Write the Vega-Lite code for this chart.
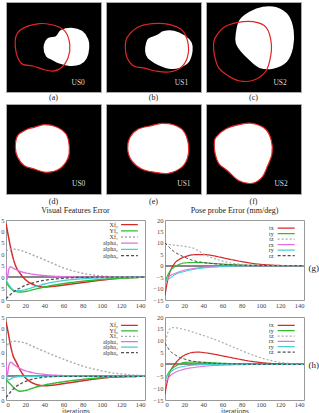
{
"$schema": "https://vega.github.io/schema/vega-lite/v6.json",
"padding": {"left": 0, "top": 1, "right": 0, "bottom": 0},
"config": {
  "font": "Liberation Serif",
  "view": {"stroke": "#999"},
  "axis": {"labelFont": "Liberation Serif", "labelFontSize": 6.5, "labelColor": "#444", "domain": false, "grid": false, "ticks": false, "labelPadding": 2, "titleFont": "Liberation Serif", "titleFontWeight": "normal", "titleColor": "#333", "titleFontSize": 7.5},
  "title": {"font": "Liberation Serif", "fontWeight": "normal", "color": "#222"}
},
"datasets": {
  "shapes": [
    {"p":"a","k":"c","i":0,"x":10.6,"y":37.8},{"p":"a","k":"c","i":1,"x":17.7,"y":29.3},{"p":"a","k":"c","i":2,"x":35.3,"y":24.1},{"p":"a","k":"c","i":3,"x":49.5,"y":25.6},{"p":"a","k":"c","i":4,"x":61.8,"y":32.2},{"p":"a","k":"c","i":5,"x":67.1,"y":47},{"p":"a","k":"c","i":6,"x":65.4,"y":61.9},{"p":"a","k":"c","i":7,"x":58.3,"y":73},{"p":"a","k":"c","i":8,"x":49.5,"y":76.7},{"p":"a","k":"c","i":9,"x":38.9,"y":74.8},{"p":"a","k":"c","i":10,"x":28.3,"y":71.1},{"p":"a","k":"c","i":11,"x":17.7,"y":69.3},{"p":"a","k":"c","i":12,"x":12.4,"y":61.9},{"p":"a","k":"c","i":13,"x":9.9,"y":50.7},
    {"p":"a","k":"b","i":0,"x":40.6,"y":50.7},{"p":"a","k":"b","i":1,"x":44.2,"y":41.5},{"p":"a","k":"b","i":2,"x":53,"y":38.9},{"p":"a","k":"b","i":3,"x":58.3,"y":32.2},{"p":"a","k":"b","i":4,"x":68.9,"y":29.6},{"p":"a","k":"b","i":5,"x":79.5,"y":33},{"p":"a","k":"b","i":6,"x":85.5,"y":41.5},{"p":"a","k":"b","i":7,"x":86.6,"y":50.7},{"p":"a","k":"b","i":8,"x":84.1,"y":61.9},{"p":"a","k":"b","i":9,"x":77.7,"y":68.5},{"p":"a","k":"b","i":10,"x":67.1,"y":70},{"p":"a","k":"b","i":11,"x":56.5,"y":67.4},{"p":"a","k":"b","i":12,"x":49.5,"y":63.7},{"p":"a","k":"b","i":13,"x":43.1,"y":60},
    {"p":"b","k":"c","i":0,"x":22.2,"y":39.6},{"p":"b","k":"c","i":1,"x":32.7,"y":28.5},{"p":"b","k":"c","i":2,"x":48.6,"y":24.1},{"p":"b","k":"c","i":3,"x":66.2,"y":24.8},{"p":"b","k":"c","i":4,"x":80.3,"y":31.5},{"p":"b","k":"c","i":5,"x":86.6,"y":47},{"p":"b","k":"c","i":6,"x":85.6,"y":61.9},{"p":"b","k":"c","i":7,"x":78.5,"y":73},{"p":"b","k":"c","i":8,"x":66.2,"y":77.8},{"p":"b","k":"c","i":9,"x":52.1,"y":76.7},{"p":"b","k":"c","i":10,"x":41.5,"y":73.7},{"p":"b","k":"c","i":11,"x":29.2,"y":71.1},{"p":"b","k":"c","i":12,"x":22.2,"y":61.9},{"p":"b","k":"c","i":13,"x":20.4,"y":50.7},
    {"p":"b","k":"b","i":0,"x":42.3,"y":50.7},{"p":"b","k":"b","i":1,"x":45.1,"y":41.5},{"p":"b","k":"b","i":2,"x":53.9,"y":37.8},{"p":"b","k":"b","i":3,"x":60.9,"y":33.3},{"p":"b","k":"b","i":4,"x":71.5,"y":33},{"p":"b","k":"b","i":5,"x":82,"y":37.8},{"p":"b","k":"b","i":6,"x":89.1,"y":45.2},{"p":"b","k":"b","i":7,"x":90.1,"y":54.4},{"p":"b","k":"b","i":8,"x":86.6,"y":65.6},{"p":"b","k":"b","i":9,"x":76.8,"y":72.2},{"p":"b","k":"b","i":10,"x":66.2,"y":73},{"p":"b","k":"b","i":11,"x":55.6,"y":69.3},{"p":"b","k":"b","i":12,"x":46.8,"y":63.7},{"p":"b","k":"b","i":13,"x":42.9,"y":58.1},
    {"p":"c","k":"c","i":0,"x":9.7,"y":39.6},{"p":"c","k":"c","i":1,"x":18.4,"y":28.5},{"p":"c","k":"c","i":2,"x":32.3,"y":23},{"p":"c","k":"c","i":3,"x":49.7,"y":21.9},{"p":"c","k":"c","i":4,"x":63.5,"y":28.5},{"p":"c","k":"c","i":5,"x":68.8,"y":47},{"p":"c","k":"c","i":6,"x":67,"y":65.6},{"p":"c","k":"c","i":7,"x":61.8,"y":78.5},{"p":"c","k":"c","i":8,"x":49.7,"y":87},{"p":"c","k":"c","i":9,"x":35.8,"y":87.8},{"p":"c","k":"c","i":10,"x":23.6,"y":82.2},{"p":"c","k":"c","i":11,"x":13.2,"y":73},{"p":"c","k":"c","i":12,"x":8.7,"y":58.1},{"p":"c","k":"c","i":13,"x":8,"y":47},
    {"p":"c","k":"b","i":0,"x":32.3,"y":35.9},{"p":"c","k":"b","i":1,"x":35.8,"y":21.1},{"p":"c","k":"b","i":2,"x":46.2,"y":11.9},{"p":"c","k":"b","i":3,"x":60.1,"y":6.3},{"p":"c","k":"b","i":4,"x":74,"y":7},{"p":"c","k":"b","i":5,"x":86.1,"y":15.6},{"p":"c","k":"b","i":6,"x":91.3,"y":32.2},{"p":"c","k":"b","i":7,"x":90.6,"y":50.7},{"p":"c","k":"b","i":8,"x":84.4,"y":65.6},{"p":"c","k":"b","i":9,"x":70.5,"y":73},{"p":"c","k":"b","i":10,"x":56.6,"y":72.2},{"p":"c","k":"b","i":11,"x":46.2,"y":63.7},{"p":"c","k":"b","i":12,"x":37.5,"y":54.4},{"p":"c","k":"b","i":13,"x":32.3,"y":45.2},
    {"p":"d","k":"b","i":0,"x":9.8,"y":48.1},{"p":"d","k":"b","i":1,"x":12.3,"y":35.2},{"p":"d","k":"b","i":2,"x":22.8,"y":27.8},{"p":"d","k":"b","i":3,"x":29.8,"y":25.9},{"p":"d","k":"b","i":4,"x":40.4,"y":23},{"p":"d","k":"b","i":5,"x":52.6,"y":25.2},{"p":"d","k":"b","i":6,"x":63.2,"y":33.3},{"p":"d","k":"b","i":7,"x":66.7,"y":48.1},{"p":"d","k":"b","i":8,"x":64.9,"y":61.1},{"p":"d","k":"b","i":9,"x":56.1,"y":72.2},{"p":"d","k":"b","i":10,"x":42.1,"y":75.9},{"p":"d","k":"b","i":11,"x":29.8,"y":72.2},{"p":"d","k":"b","i":12,"x":19.3,"y":68.5},{"p":"d","k":"b","i":13,"x":12.3,"y":59.3},
    {"p":"e","k":"b","i":0,"x":22.8,"y":50},{"p":"e","k":"b","i":1,"x":25.3,"y":37},{"p":"e","k":"b","i":2,"x":34,"y":27.8},{"p":"e","k":"b","i":3,"x":48.1,"y":24.1},{"p":"e","k":"b","i":4,"x":58.6,"y":21.5},{"p":"e","k":"b","i":5,"x":70.9,"y":23},{"p":"e","k":"b","i":6,"x":81.4,"y":29.6},{"p":"e","k":"b","i":7,"x":86.7,"y":44.4},{"p":"e","k":"b","i":8,"x":86,"y":59.3},{"p":"e","k":"b","i":9,"x":79.6,"y":70.4},{"p":"e","k":"b","i":10,"x":65.6,"y":77},{"p":"e","k":"b","i":11,"x":51.6,"y":75.9},{"p":"e","k":"b","i":12,"x":37.5,"y":72.2},{"p":"e","k":"b","i":13,"x":27,"y":63},
    {"p":"f","k":"b","i":0,"x":10.4,"y":37},{"p":"f","k":"b","i":1,"x":20.8,"y":27.8},{"p":"f","k":"b","i":2,"x":34.7,"y":23},{"p":"f","k":"b","i":3,"x":48.6,"y":21.5},{"p":"f","k":"b","i":4,"x":62.5,"y":27.8},{"p":"f","k":"b","i":5,"x":68.8,"y":40.7},{"p":"f","k":"b","i":6,"x":69.4,"y":55.6},{"p":"f","k":"b","i":7,"x":64.2,"y":70.4},{"p":"f","k":"b","i":8,"x":59,"y":81.5},{"p":"f","k":"b","i":9,"x":48.6,"y":88.1},{"p":"f","k":"b","i":10,"x":34.7,"y":85.2},{"p":"f","k":"b","i":11,"x":22.6,"y":74.1},{"p":"f","k":"b","i":12,"x":13.9,"y":66.7},{"p":"f","k":"b","i":13,"x":9.7,"y":55.6},{"p":"f","k":"b","i":14,"x":8.7,"y":44.4},
    {"p":"a","k":"t","i":0,"x":76,"y":89.5,"t":"US0"},{"p":"b","k":"t","i":0,"x":79.5,"y":89.5,"t":"US1"},{"p":"c","k":"t","i":0,"x":78,"y":89.5,"t":"US2"},
    {"p":"d","k":"t","i":0,"x":76.5,"y":89,"t":"US0"},{"p":"e","k":"t","i":0,"x":82,"y":89,"t":"US1"},{"p":"f","k":"t","i":0,"x":79,"y":89,"t":"US2"}
  ],
  "keysA": [{"s":"Xf₀"},{"s":"Yf₀"},{"s":"Xf₁"},{"s":"alpha₁"},{"s":"alpha₂"},{"s":"alpha₀"}],
  "keysB": [{"s":"tx"},{"s":"ty"},{"s":"tz"},{"s":"rx"},{"s":"ry"},{"s":"rz"}],
  "vfe_g": [
    {"s":"Xf₀","x":0,"v":23.5},{"s":"Xf₀","x":2,"v":19},{"s":"Xf₀","x":5,"v":12.5},{"s":"Xf₀","x":8,"v":7.5},{"s":"Xf₀","x":10,"v":5},{"s":"Xf₀","x":15,"v":1.5},{"s":"Xf₀","x":20,"v":-1},{"s":"Xf₀","x":25,"v":-2.5},{"s":"Xf₀","x":30,"v":-3.5},{"s":"Xf₀","x":35,"v":-4.1},{"s":"Xf₀","x":40,"v":-4.3},{"s":"Xf₀","x":50,"v":-4},{"s":"Xf₀","x":60,"v":-3.5},{"s":"Xf₀","x":70,"v":-2.9},{"s":"Xf₀","x":80,"v":-2.4},{"s":"Xf₀","x":90,"v":-1.8},{"s":"Xf₀","x":100,"v":-1.3},{"s":"Xf₀","x":110,"v":-0.8},{"s":"Xf₀","x":120,"v":-0.4},{"s":"Xf₀","x":130,"v":-0.2},{"s":"Xf₀","x":145,"v":0},
    {"s":"Yf₀","x":0,"v":-2},{"s":"Yf₀","x":5,"v":-5},{"s":"Yf₀","x":10,"v":-6.2},{"s":"Yf₀","x":15,"v":-6.5},{"s":"Yf₀","x":20,"v":-6.3},{"s":"Yf₀","x":30,"v":-5.3},{"s":"Yf₀","x":40,"v":-4.3},{"s":"Yf₀","x":60,"v":-2.8},{"s":"Yf₀","x":80,"v":-1.8},{"s":"Yf₀","x":100,"v":-1},{"s":"Yf₀","x":120,"v":-0.5},{"s":"Yf₀","x":145,"v":0},
    {"s":"Xf₁","x":0,"v":11.5},{"s":"Xf₁","x":5,"v":12.3},{"s":"Xf₁","x":10,"v":12.2},{"s":"Xf₁","x":20,"v":11},{"s":"Xf₁","x":30,"v":9.3},{"s":"Xf₁","x":40,"v":7.6},{"s":"Xf₁","x":50,"v":5.8},{"s":"Xf₁","x":60,"v":4},{"s":"Xf₁","x":70,"v":2.7},{"s":"Xf₁","x":80,"v":1.7},{"s":"Xf₁","x":90,"v":1},{"s":"Xf₁","x":100,"v":0.5},{"s":"Xf₁","x":120,"v":0.1},{"s":"Xf₁","x":145,"v":0},
    {"s":"alpha₁","x":0,"v":5.5},{"s":"alpha₁","x":1,"v":-1},{"s":"alpha₁","x":3,"v":3.5},{"s":"alpha₁","x":5,"v":4.5},{"s":"alpha₁","x":8,"v":3.8},{"s":"alpha₁","x":15,"v":2.5},{"s":"alpha₁","x":25,"v":1.5},{"s":"alpha₁","x":40,"v":0.7},{"s":"alpha₁","x":60,"v":0.2},{"s":"alpha₁","x":80,"v":0},{"s":"alpha₁","x":145,"v":0},
    {"s":"alpha₂","x":0,"v":-1},{"s":"alpha₂","x":5,"v":-4.5},{"s":"alpha₂","x":10,"v":-6},{"s":"alpha₂","x":20,"v":-5.5},{"s":"alpha₂","x":30,"v":-4.2},{"s":"alpha₂","x":40,"v":-3},{"s":"alpha₂","x":60,"v":-1.5},{"s":"alpha₂","x":80,"v":-0.7},{"s":"alpha₂","x":100,"v":-0.3},{"s":"alpha₂","x":120,"v":-0.1},{"s":"alpha₂","x":145,"v":0},
    {"s":"alpha₀","x":0,"v":-9.5},{"s":"alpha₀","x":5,"v":-7.5},{"s":"alpha₀","x":10,"v":-5.8},{"s":"alpha₀","x":15,"v":-4.7},{"s":"alpha₀","x":20,"v":-3.6},{"s":"alpha₀","x":30,"v":-2.3},{"s":"alpha₀","x":40,"v":-1.4},{"s":"alpha₀","x":60,"v":-0.5},{"s":"alpha₀","x":80,"v":-0.1},{"s":"alpha₀","x":100,"v":0},{"s":"alpha₀","x":145,"v":0}
  ],
  "pose_g": [
    {"s":"tx","x":0,"v":-13},{"s":"tx","x":2,"v":-8},{"s":"tx","x":5,"v":-3},{"s":"tx","x":10,"v":1},{"s":"tx","x":15,"v":2.8},{"s":"tx","x":20,"v":3.8},{"s":"tx","x":30,"v":4.8},{"s":"tx","x":40,"v":4.9},{"s":"tx","x":50,"v":4.4},{"s":"tx","x":60,"v":3.5},{"s":"tx","x":70,"v":2.6},{"s":"tx","x":80,"v":1.8},{"s":"tx","x":90,"v":1.1},{"s":"tx","x":100,"v":0.6},{"s":"tx","x":110,"v":0.3},{"s":"tx","x":120,"v":0.1},{"s":"tx","x":145,"v":0},
    {"s":"ty","x":0,"v":-7},{"s":"ty","x":3,"v":-4},{"s":"ty","x":5,"v":-2.5},{"s":"ty","x":10,"v":-0.5},{"s":"ty","x":15,"v":0.6},{"s":"ty","x":20,"v":1.2},{"s":"ty","x":30,"v":1.4},{"s":"ty","x":40,"v":1.3},{"s":"ty","x":50,"v":1},{"s":"ty","x":60,"v":0.7},{"s":"ty","x":80,"v":0.3},{"s":"ty","x":100,"v":0.1},{"s":"ty","x":145,"v":0},
    {"s":"tz","x":0,"v":10},{"s":"tz","x":5,"v":9.3},{"s":"tz","x":10,"v":9},{"s":"tz","x":20,"v":8.5},{"s":"tz","x":30,"v":7.6},{"s":"tz","x":40,"v":5.2},{"s":"tz","x":50,"v":3.3},{"s":"tz","x":60,"v":2},{"s":"tz","x":70,"v":1.1},{"s":"tz","x":80,"v":0.6},{"s":"tz","x":100,"v":0.2},{"s":"tz","x":145,"v":0},
    {"s":"rx","x":0,"v":-8},{"s":"rx","x":3,"v":-5.5},{"s":"rx","x":5,"v":-4.5},{"s":"rx","x":10,"v":-3.5},{"s":"rx","x":20,"v":-2},{"s":"rx","x":30,"v":-1.2},{"s":"rx","x":40,"v":-0.7},{"s":"rx","x":60,"v":-0.3},{"s":"rx","x":80,"v":-0.1},{"s":"rx","x":100,"v":0},{"s":"rx","x":145,"v":0},
    {"s":"ry","x":0,"v":-7},{"s":"ry","x":5,"v":-5.5},{"s":"ry","x":10,"v":-4},{"s":"ry","x":20,"v":-2.5},{"s":"ry","x":30,"v":-1.6},{"s":"ry","x":40,"v":-1},{"s":"ry","x":60,"v":-0.4},{"s":"ry","x":80,"v":-0.1},{"s":"ry","x":100,"v":0},{"s":"ry","x":145,"v":0},
    {"s":"rz","x":0,"v":10},{"s":"rz","x":5,"v":7.8},{"s":"rz","x":10,"v":6},{"s":"rz","x":15,"v":4.8},{"s":"rz","x":20,"v":3.8},{"s":"rz","x":30,"v":2.2},{"s":"rz","x":40,"v":1.4},{"s":"rz","x":50,"v":0.9},{"s":"rz","x":60,"v":0.6},{"s":"rz","x":80,"v":0.2},{"s":"rz","x":100,"v":0.1},{"s":"rz","x":145,"v":0}
  ],
  "vfe_h": [
    {"s":"Xf₀","x":0,"v":23},{"s":"Xf₀","x":2,"v":19},{"s":"Xf₀","x":5,"v":12.5},{"s":"Xf₀","x":8,"v":8},{"s":"Xf₀","x":10,"v":6.5},{"s":"Xf₀","x":15,"v":2.5},{"s":"Xf₀","x":20,"v":-0.5},{"s":"Xf₀","x":25,"v":-2.2},{"s":"Xf₀","x":30,"v":-3.2},{"s":"Xf₀","x":35,"v":-3.8},{"s":"Xf₀","x":40,"v":-4},{"s":"Xf₀","x":50,"v":-3.7},{"s":"Xf₀","x":60,"v":-3.1},{"s":"Xf₀","x":70,"v":-2.5},{"s":"Xf₀","x":80,"v":-1.9},{"s":"Xf₀","x":90,"v":-1.3},{"s":"Xf₀","x":100,"v":-0.8},{"s":"Xf₀","x":110,"v":-0.4},{"s":"Xf₀","x":120,"v":-0.2},{"s":"Xf₀","x":145,"v":0},
    {"s":"Yf₀","x":0,"v":-1.5},{"s":"Yf₀","x":5,"v":-3.5},{"s":"Yf₀","x":10,"v":-5.5},{"s":"Yf₀","x":15,"v":-6.3},{"s":"Yf₀","x":20,"v":-6},{"s":"Yf₀","x":30,"v":-4.7},{"s":"Yf₀","x":40,"v":-3.7},{"s":"Yf₀","x":60,"v":-2.3},{"s":"Yf₀","x":80,"v":-1.3},{"s":"Yf₀","x":100,"v":-0.6},{"s":"Yf₀","x":120,"v":-0.2},{"s":"Yf₀","x":145,"v":0},
    {"s":"Xf₁","x":0,"v":11.5},{"s":"Xf₁","x":3,"v":14},{"s":"Xf₁","x":8,"v":14.8},{"s":"Xf₁","x":15,"v":14.5},{"s":"Xf₁","x":20,"v":14},{"s":"Xf₁","x":30,"v":12.2},{"s":"Xf₁","x":40,"v":10.5},{"s":"Xf₁","x":50,"v":8.8},{"s":"Xf₁","x":60,"v":7.2},{"s":"Xf₁","x":70,"v":5.7},{"s":"Xf₁","x":80,"v":4.3},{"s":"Xf₁","x":90,"v":3.2},{"s":"Xf₁","x":100,"v":2.3},{"s":"Xf₁","x":110,"v":1.5},{"s":"Xf₁","x":120,"v":1},{"s":"Xf₁","x":130,"v":0.6},{"s":"Xf₁","x":145,"v":0.3},
    {"s":"alpha₁","x":0,"v":6},{"s":"alpha₁","x":1,"v":0},{"s":"alpha₁","x":3,"v":4.5},{"s":"alpha₁","x":5,"v":6},{"s":"alpha₁","x":8,"v":5},{"s":"alpha₁","x":15,"v":3.2},{"s":"alpha₁","x":25,"v":1.8},{"s":"alpha₁","x":40,"v":0.8},{"s":"alpha₁","x":60,"v":0.3},{"s":"alpha₁","x":80,"v":0.1},{"s":"alpha₁","x":145,"v":0},
    {"s":"alpha₂","x":0,"v":0},{"s":"alpha₂","x":3,"v":-1.5},{"s":"alpha₂","x":6,"v":-0.8},{"s":"alpha₂","x":10,"v":-0.3},{"s":"alpha₂","x":20,"v":0},{"s":"alpha₂","x":145,"v":0},
    {"s":"alpha₀","x":0,"v":-9},{"s":"alpha₀","x":5,"v":-6.5},{"s":"alpha₀","x":10,"v":-4.5},{"s":"alpha₀","x":15,"v":-3.2},{"s":"alpha₀","x":20,"v":-2.2},{"s":"alpha₀","x":30,"v":-1},{"s":"alpha₀","x":40,"v":-0.4},{"s":"alpha₀","x":60,"v":0},{"s":"alpha₀","x":145,"v":0}
  ],
  "pose_h": [
    {"s":"tx","x":0,"v":-12.5},{"s":"tx","x":2,"v":-8},{"s":"tx","x":5,"v":-3.5},{"s":"tx","x":10,"v":0},{"s":"tx","x":15,"v":2.3},{"s":"tx","x":20,"v":3.8},{"s":"tx","x":25,"v":4.7},{"s":"tx","x":30,"v":5.1},{"s":"tx","x":35,"v":5.2},{"s":"tx","x":40,"v":5},{"s":"tx","x":50,"v":4.4},{"s":"tx","x":60,"v":3.6},{"s":"tx","x":70,"v":2.8},{"s":"tx","x":80,"v":2},{"s":"tx","x":90,"v":1.3},{"s":"tx","x":100,"v":0.8},{"s":"tx","x":110,"v":0.4},{"s":"tx","x":120,"v":0.2},{"s":"tx","x":145,"v":0},
    {"s":"ty","x":0,"v":-7},{"s":"ty","x":3,"v":-4},{"s":"ty","x":5,"v":-2.8},{"s":"ty","x":10,"v":-1},{"s":"ty","x":15,"v":0.2},{"s":"ty","x":20,"v":0.8},{"s":"ty","x":30,"v":1},{"s":"ty","x":40,"v":0.9},{"s":"ty","x":60,"v":0.5},{"s":"ty","x":80,"v":0.2},{"s":"ty","x":100,"v":0.05},{"s":"ty","x":145,"v":0},
    {"s":"tz","x":0,"v":8},{"s":"tz","x":2,"v":12},{"s":"tz","x":4,"v":14.5},{"s":"tz","x":8,"v":15.5},{"s":"tz","x":12,"v":15.4},{"s":"tz","x":20,"v":14.7},{"s":"tz","x":30,"v":13.5},{"s":"tz","x":40,"v":12.2},{"s":"tz","x":50,"v":10.8},{"s":"tz","x":60,"v":9.2},{"s":"tz","x":70,"v":7.5},{"s":"tz","x":80,"v":5.8},{"s":"tz","x":90,"v":4.2},{"s":"tz","x":100,"v":2.8},{"s":"tz","x":110,"v":1.7},{"s":"tz","x":120,"v":0.9},{"s":"tz","x":130,"v":0.4},{"s":"tz","x":145,"v":0.1},
    {"s":"rx","x":0,"v":-8},{"s":"rx","x":5,"v":-5},{"s":"rx","x":10,"v":-3.5},{"s":"rx","x":20,"v":-2},{"s":"rx","x":30,"v":-1.3},{"s":"rx","x":40,"v":-0.8},{"s":"rx","x":60,"v":-0.3},{"s":"rx","x":80,"v":-0.1},{"s":"rx","x":100,"v":0},{"s":"rx","x":145,"v":0},
    {"s":"ry","x":0,"v":-6},{"s":"ry","x":5,"v":-3.5},{"s":"ry","x":10,"v":-2},{"s":"ry","x":20,"v":-0.8},{"s":"ry","x":30,"v":-0.3},{"s":"ry","x":40,"v":-0.1},{"s":"ry","x":60,"v":0},{"s":"ry","x":145,"v":0},
    {"s":"rz","x":0,"v":9},{"s":"rz","x":3,"v":7},{"s":"rz","x":5,"v":5.8},{"s":"rz","x":10,"v":4.2},{"s":"rz","x":15,"v":3},{"s":"rz","x":20,"v":2.3},{"s":"rz","x":30,"v":1.3},{"s":"rz","x":40,"v":0.8},{"s":"rz","x":60,"v":0.3},{"s":"rz","x":80,"v":0.1},{"s":"rz","x":100,"v":0},{"s":"rz","x":145,"v":0}
  ]
},
"spacing": 0,
"vconcat": [
  {"spacing": 0, "vconcat": [
    {"spacing": 3, "hconcat": [
      {"width": 95, "height": 90, "view": {"fill": "black", "stroke": "#aaa"},
       "title": {"text": "(a)", "orient": "bottom", "fontSize": 8, "offset": 2},
       "data": {"name": "shapes"},
       "layer": [
         {"transform": [{"filter": "datum.p == 'a' && datum.k == 'b'"}], "mark": {"type": "line", "interpolate": "cardinal-closed", "fill": "white", "stroke": "white", "clip": true},
          "encoding": {"x": {"field": "x", "type": "quantitative", "scale": {"domain": [0, 100]}, "axis": null}, "y": {"field": "y", "type": "quantitative", "scale": {"domain": [0, 100], "reverse": true}, "axis": null}, "order": {"field": "i", "type": "quantitative"}}},
         {"transform": [{"filter": "datum.p == 'a' && datum.k == 'c'"}], "mark": {"type": "line", "interpolate": "cardinal-closed", "stroke": "#e02525", "strokeWidth": 1.2, "clip": true},
          "encoding": {"x": {"field": "x", "type": "quantitative", "axis": null}, "y": {"field": "y", "type": "quantitative", "axis": null}, "order": {"field": "i", "type": "quantitative"}}},
         {"transform": [{"filter": "datum.p == 'a' && datum.k == 't'"}], "mark": {"type": "text", "color": "#ddd", "fontSize": 7.5},
          "encoding": {"x": {"field": "x", "type": "quantitative", "axis": null}, "y": {"field": "y", "type": "quantitative", "axis": null}, "text": {"field": "t"}}}
       ]},
      {"width": 95, "height": 90, "view": {"fill": "black", "stroke": "#aaa"},
       "title": {"text": "(b)", "orient": "bottom", "fontSize": 8, "offset": 2},
       "data": {"name": "shapes"},
       "layer": [
         {"transform": [{"filter": "datum.p == 'b' && datum.k == 'b'"}], "mark": {"type": "line", "interpolate": "cardinal-closed", "fill": "white", "stroke": "white", "clip": true},
          "encoding": {"x": {"field": "x", "type": "quantitative", "scale": {"domain": [0, 100]}, "axis": null}, "y": {"field": "y", "type": "quantitative", "scale": {"domain": [0, 100], "reverse": true}, "axis": null}, "order": {"field": "i", "type": "quantitative"}}},
         {"transform": [{"filter": "datum.p == 'b' && datum.k == 'c'"}], "mark": {"type": "line", "interpolate": "cardinal-closed", "stroke": "#e02525", "strokeWidth": 1.2, "clip": true},
          "encoding": {"x": {"field": "x", "type": "quantitative", "axis": null}, "y": {"field": "y", "type": "quantitative", "axis": null}, "order": {"field": "i", "type": "quantitative"}}},
         {"transform": [{"filter": "datum.p == 'b' && datum.k == 't'"}], "mark": {"type": "text", "color": "#ddd", "fontSize": 7.5},
          "encoding": {"x": {"field": "x", "type": "quantitative", "axis": null}, "y": {"field": "y", "type": "quantitative", "axis": null}, "text": {"field": "t"}}}
       ]},
      {"width": 95, "height": 90, "view": {"fill": "black", "stroke": "#aaa"},
       "title": {"text": "(c)", "orient": "bottom", "fontSize": 8, "offset": 2},
       "data": {"name": "shapes"},
       "layer": [
         {"transform": [{"filter": "datum.p == 'c' && datum.k == 'b'"}], "mark": {"type": "line", "interpolate": "cardinal-closed", "fill": "white", "stroke": "white", "clip": true},
          "encoding": {"x": {"field": "x", "type": "quantitative", "scale": {"domain": [0, 100]}, "axis": null}, "y": {"field": "y", "type": "quantitative", "scale": {"domain": [0, 100], "reverse": true}, "axis": null}, "order": {"field": "i", "type": "quantitative"}}},
         {"transform": [{"filter": "datum.p == 'c' && datum.k == 'c'"}], "mark": {"type": "line", "interpolate": "cardinal-closed", "stroke": "#e02525", "strokeWidth": 1.2, "clip": true},
          "encoding": {"x": {"field": "x", "type": "quantitative", "axis": null}, "y": {"field": "y", "type": "quantitative", "axis": null}, "order": {"field": "i", "type": "quantitative"}}},
         {"transform": [{"filter": "datum.p == 'c' && datum.k == 't'"}], "mark": {"type": "text", "color": "#ddd", "fontSize": 7.5},
          "encoding": {"x": {"field": "x", "type": "quantitative", "axis": null}, "y": {"field": "y", "type": "quantitative", "axis": null}, "text": {"field": "t"}}}
       ]}
    ]},
    {"spacing": 3, "hconcat": [
      {"width": 95, "height": 90, "view": {"fill": "black", "stroke": "#aaa"},
       "title": {"text": "(d)", "orient": "bottom", "fontSize": 8, "offset": 3.5},
       "data": {"name": "shapes"},
       "layer": [
         {"transform": [{"filter": "datum.p == 'd' && datum.k == 'b'"}], "mark": {"type": "line", "interpolate": "cardinal-closed", "fill": "white", "stroke": "#e02525", "strokeWidth": 1.2, "clip": true},
          "encoding": {"x": {"field": "x", "type": "quantitative", "scale": {"domain": [0, 100]}, "axis": null}, "y": {"field": "y", "type": "quantitative", "scale": {"domain": [0, 100], "reverse": true}, "axis": null}, "order": {"field": "i", "type": "quantitative"}}},
         {"transform": [{"filter": "datum.p == 'd' && datum.k == 't'"}], "mark": {"type": "text", "color": "#ddd", "fontSize": 7.5},
          "encoding": {"x": {"field": "x", "type": "quantitative", "axis": null}, "y": {"field": "y", "type": "quantitative", "axis": null}, "text": {"field": "t"}}}
       ]},
      {"width": 95, "height": 90, "view": {"fill": "black", "stroke": "#aaa"},
       "title": {"text": "(e)", "orient": "bottom", "fontSize": 8, "offset": 3.5},
       "data": {"name": "shapes"},
       "layer": [
         {"transform": [{"filter": "datum.p == 'e' && datum.k == 'b'"}], "mark": {"type": "line", "interpolate": "cardinal-closed", "fill": "white", "stroke": "#e02525", "strokeWidth": 1.2, "clip": true},
          "encoding": {"x": {"field": "x", "type": "quantitative", "scale": {"domain": [0, 100]}, "axis": null}, "y": {"field": "y", "type": "quantitative", "scale": {"domain": [0, 100], "reverse": true}, "axis": null}, "order": {"field": "i", "type": "quantitative"}}},
         {"transform": [{"filter": "datum.p == 'e' && datum.k == 't'"}], "mark": {"type": "text", "color": "#ddd", "fontSize": 7.5},
          "encoding": {"x": {"field": "x", "type": "quantitative", "axis": null}, "y": {"field": "y", "type": "quantitative", "axis": null}, "text": {"field": "t"}}}
       ]},
      {"width": 95, "height": 90, "view": {"fill": "black", "stroke": "#aaa"},
       "title": {"text": "(f)", "orient": "bottom", "fontSize": 8, "offset": 3.5},
       "data": {"name": "shapes"},
       "layer": [
         {"transform": [{"filter": "datum.p == 'f' && datum.k == 'b'"}], "mark": {"type": "line", "interpolate": "cardinal-closed", "fill": "white", "stroke": "#e02525", "strokeWidth": 1.2, "clip": true},
          "encoding": {"x": {"field": "x", "type": "quantitative", "scale": {"domain": [0, 100]}, "axis": null}, "y": {"field": "y", "type": "quantitative", "scale": {"domain": [0, 100], "reverse": true}, "axis": null}, "order": {"field": "i", "type": "quantitative"}}},
         {"transform": [{"filter": "datum.p == 'f' && datum.k == 't'"}], "mark": {"type": "text", "color": "#ddd", "fontSize": 7.5},
          "encoding": {"x": {"field": "x", "type": "quantitative", "axis": null}, "y": {"field": "y", "type": "quantitative", "axis": null}, "text": {"field": "t"}}}
       ]}
    ]}
  ]},
  {"spacing": 4, "vconcat": [
    {"spacing": 6, "hconcat": [
      {"width": 139, "height": 80,
       "title": {"text": "Visual Features Error", "fontSize": 8, "offset": 2},
       "resolve": {"scale": {"y": "independent"}},
       "layer": [
         {"data": {"name": "vfe_g"},
          "layer": [
           {"mark": {"type": "rule", "color": "#888", "strokeWidth": 0.8}, "encoding": {"y": {"datum": 0, "type": "quantitative", "scale": {"domain": [-10, 25], "nice": false, "zero": false}, "axis": {"title": null, "values": [-10,-5,0,5,10,15,20,25], "labelExpr": "slice(datum.label, -1)"}}}},
           {"mark": {"type": "line", "interpolate": "monotone", "clip": true},
            "encoding": {
              "x": {"field": "x", "type": "quantitative", "scale": {"domain": [0, 145], "nice": false}, "axis": {"title": null, "values": [0,20,40,60,80,100,120,140]}},
              "y": {"field": "v", "type": "quantitative", "scale": {"domain": [-10, 25], "nice": false, "zero": false}, "axis": {"title": null, "values": [-10,-5,0,5,10,15,20,25], "labelExpr": "slice(datum.label, -1)"}},
              "color": {"field": "s", "type": "nominal", "scale": {"domain": ["Xf₀","Yf₀","Xf₁","alpha₁","alpha₂","alpha₀"], "range": ["#d42a2a","#33bb33","#aaaaaa","#e070e0","#44d0d0","#505050"]}, "legend": null},
              "strokeDash": {"field": "s", "type": "nominal", "scale": {"domain": ["Xf₀","Yf₀","Xf₁","alpha₁","alpha₂","alpha₀"], "range": [[1,0],[1,0],[2,2],[1,0],[1,0],[3,2]]}, "legend": null},
              "size": {"field": "s", "type": "nominal", "scale": {"domain": ["Xf₀","Yf₀","Xf₁","alpha₁","alpha₂","alpha₀"], "range": [1.5,1,1,1,1,1]}, "legend": null}
            }}
          ]},
         {"data": {"name": "keysA"},
          "encoding": {"y": {"field": "s", "type": "ordinal", "scale": {"domain": ["Xf₀","Yf₀","Xf₁","alpha₁","alpha₂","alpha₀"], "range": [1.5, 38.7], "padding": 0}, "axis": null}},
          "layer": [
           {"mark": {"type": "rule", "strokeWidth": 1.3},
            "encoding": {"x": {"datum": 120, "type": "quantitative", "axis": {"title": null, "values": [0,20,40,60,80,100,120,140]}}, "x2": {"datum": 137.5},
              "color": {"field": "s", "type": "nominal", "scale": {"domain": ["Xf₀","Yf₀","Xf₁","alpha₁","alpha₂","alpha₀"], "range": ["#d42a2a","#33bb33","#aaaaaa","#e070e0","#44d0d0","#505050"]}, "legend": null},
              "strokeDash": {"field": "s", "type": "nominal", "scale": {"domain": ["Xf₀","Yf₀","Xf₁","alpha₁","alpha₂","alpha₀"], "range": [[1,0],[1,0],[2,2],[1,0],[1,0],[3,2]]}, "legend": null}}},
           {"mark": {"type": "text", "align": "right", "baseline": "middle", "dx": -3, "fontSize": 6, "color": "#333"},
            "encoding": {"x": {"datum": 120, "type": "quantitative", "axis": {"title": null, "values": [0,20,40,60,80,100,120,140]}}, "text": {"field": "s"}}}
          ]}
       ]},
      {"width": 139, "height": 80,
       "title": {"text": "Pose probe Error (mm/deg)", "fontSize": 8, "offset": 2},
       "resolve": {"scale": {"y": "independent"}},
       "layer": [
         {"data": {"name": "pose_g"},
          "resolve": {"axis": {"y": "independent"}},
          "layer": [
           {"mark": {"type": "rule", "color": "#888", "strokeWidth": 0.8}, "encoding": {"y": {"datum": 0, "type": "quantitative", "scale": {"domain": [-15, 20], "nice": false, "zero": false}, "axis": {"orient": "right", "title": "(g)", "labels": false, "ticks": false, "titleAngle": 0, "titleAlign": "left", "titleBaseline": "middle", "titleX": 4, "titleY": 47, "titleFontSize": 9, "titleColor": "#222"}}}},
           {"mark": {"type": "line", "interpolate": "monotone", "clip": true},
            "encoding": {
              "x": {"field": "x", "type": "quantitative", "scale": {"domain": [0, 145], "nice": false}, "axis": {"title": null, "values": [0,20,40,60,80,100,120,140]}},
              "y": {"field": "v", "type": "quantitative", "scale": {"domain": [-15, 20], "nice": false, "zero": false}, "axis": {"title": null, "values": [-15,-10,-5,0,5,10,15,20]}},
              "color": {"field": "s", "type": "nominal", "scale": {"domain": ["tx","ty","tz","rx","ry","rz"], "range": ["#d42a2a","#33bb33","#aaaaaa","#e070e0","#44d0d0","#505050"]}, "legend": null},
              "strokeDash": {"field": "s", "type": "nominal", "scale": {"domain": ["tx","ty","tz","rx","ry","rz"], "range": [[1,0],[1,0],[2,2],[1,0],[1,0],[3,2]]}, "legend": null},
              "size": {"field": "s", "type": "nominal", "scale": {"domain": ["tx","ty","tz","rx","ry","rz"], "range": [1.5,1,1,1,1,1]}, "legend": null}
            }}
          ]},
         {"data": {"name": "keysB"},
          "encoding": {"y": {"field": "s", "type": "ordinal", "scale": {"domain": ["tx","ty","tz","rx","ry","rz"], "range": [5.3, 38.3], "padding": 0}, "axis": null}},
          "layer": [
           {"mark": {"type": "rule", "strokeWidth": 1.3},
            "encoding": {"x": {"datum": 117.5, "type": "quantitative", "axis": {"title": null, "values": [0,20,40,60,80,100,120,140]}}, "x2": {"datum": 135.3},
              "color": {"field": "s", "type": "nominal", "scale": {"domain": ["tx","ty","tz","rx","ry","rz"], "range": ["#d42a2a","#33bb33","#aaaaaa","#e070e0","#44d0d0","#505050"]}, "legend": null},
              "strokeDash": {"field": "s", "type": "nominal", "scale": {"domain": ["tx","ty","tz","rx","ry","rz"], "range": [[1,0],[1,0],[2,2],[1,0],[1,0],[3,2]]}, "legend": null}}},
           {"mark": {"type": "text", "align": "right", "baseline": "middle", "dx": -4, "fontSize": 6, "color": "#333"},
            "encoding": {"x": {"datum": 117.5, "type": "quantitative", "axis": {"title": null, "values": [0,20,40,60,80,100,120,140]}}, "text": {"field": "s"}}}
          ]}
       ]}
    ]},
    {"spacing": 6, "hconcat": [
      {"width": 139, "height": 83,
       "resolve": {"scale": {"y": "independent"}},
       "layer": [
         {"data": {"name": "vfe_h"},
          "layer": [
           {"mark": {"type": "rule", "color": "#888", "strokeWidth": 0.8}, "encoding": {"y": {"datum": 0, "type": "quantitative", "scale": {"domain": [-10, 25], "nice": false, "zero": false}, "axis": {"title": null, "values": [-10,-5,0,5,10,15,20,25], "labelExpr": "slice(datum.label, -1)"}}}},
           {"mark": {"type": "line", "interpolate": "monotone", "clip": true},
            "encoding": {
              "x": {"field": "x", "type": "quantitative", "scale": {"domain": [0, 145], "nice": false}, "axis": {"title": "iterations", "titlePadding": 0, "labelPadding": 1, "values": [0,20,40,60,80,100,120,140]}},
              "y": {"field": "v", "type": "quantitative", "scale": {"domain": [-10, 25], "nice": false, "zero": false}, "axis": {"title": null, "values": [-10,-5,0,5,10,15,20,25], "labelExpr": "slice(datum.label, -1)"}},
              "color": {"field": "s", "type": "nominal", "scale": {"domain": ["Xf₀","Yf₀","Xf₁","alpha₁","alpha₂","alpha₀"], "range": ["#d42a2a","#33bb33","#b4a8d8","#eb9ce8","#44d0d0","#505050"]}, "legend": null},
              "strokeDash": {"field": "s", "type": "nominal", "scale": {"domain": ["Xf₀","Yf₀","Xf₁","alpha₁","alpha₂","alpha₀"], "range": [[1,0],[1,0],[2,2],[1,0],[1,0],[3,2]]}, "legend": null},
              "size": {"field": "s", "type": "nominal", "scale": {"domain": ["Xf₀","Yf₀","Xf₁","alpha₁","alpha₂","alpha₀"], "range": [1.5,1,1,1,1.5,1]}, "legend": null}
            }}
          ]},
         {"data": {"name": "keysA"},
          "encoding": {"y": {"field": "s", "type": "ordinal", "scale": {"domain": ["Xf₀","Yf₀","Xf₁","alpha₁","alpha₂","alpha₀"], "range": [5.7, 38.3], "padding": 0}, "axis": null}},
          "layer": [
           {"mark": {"type": "rule", "strokeWidth": 1.3},
            "encoding": {"x": {"datum": 120, "type": "quantitative", "axis": {"title": "iterations", "titlePadding": 0, "labelPadding": 1, "values": [0,20,40,60,80,100,120,140]}}, "x2": {"datum": 137.5},
              "color": {"field": "s", "type": "nominal", "scale": {"domain": ["Xf₀","Yf₀","Xf₁","alpha₁","alpha₂","alpha₀"], "range": ["#d42a2a","#33bb33","#b4a8d8","#eb9ce8","#44d0d0","#505050"]}, "legend": null},
              "strokeDash": {"field": "s", "type": "nominal", "scale": {"domain": ["Xf₀","Yf₀","Xf₁","alpha₁","alpha₂","alpha₀"], "range": [[1,0],[1,0],[2,2],[1,0],[1,0],[3,2]]}, "legend": null}}},
           {"mark": {"type": "text", "align": "right", "baseline": "middle", "dx": -3, "fontSize": 6, "color": "#333"},
            "encoding": {"x": {"datum": 120, "type": "quantitative", "axis": {"title": "iterations", "titlePadding": 0, "labelPadding": 1, "values": [0,20,40,60,80,100,120,140]}}, "text": {"field": "s"}}}
          ]}
       ]},
      {"width": 139, "height": 83,
       "resolve": {"scale": {"y": "independent"}},
       "layer": [
         {"data": {"name": "pose_h"},
          "resolve": {"axis": {"y": "independent"}},
          "layer": [
           {"mark": {"type": "rule", "color": "#888", "strokeWidth": 0.8}, "encoding": {"y": {"datum": 0, "type": "quantitative", "scale": {"domain": [-15, 20], "nice": false, "zero": false}, "axis": {"orient": "right", "title": "(h)", "labels": false, "ticks": false, "titleAngle": 0, "titleAlign": "left", "titleBaseline": "middle", "titleX": 4, "titleY": 47, "titleFontSize": 9, "titleColor": "#222"}}}},
           {"mark": {"type": "line", "interpolate": "monotone", "clip": true},
            "encoding": {
              "x": {"field": "x", "type": "quantitative", "scale": {"domain": [0, 145], "nice": false}, "axis": {"title": "iterations", "titlePadding": 0, "labelPadding": 1, "values": [0,20,40,60,80,100,120,140]}},
              "y": {"field": "v", "type": "quantitative", "scale": {"domain": [-15, 20], "nice": false, "zero": false}, "axis": {"title": null, "values": [-15,-10,-5,0,5,10,15,20]}},
              "color": {"field": "s", "type": "nominal", "scale": {"domain": ["tx","ty","tz","rx","ry","rz"], "range": ["#d42a2a","#33bb33","#b4a8d8","#c8a8f0","#44d0d0","#505050"]}, "legend": null},
              "strokeDash": {"field": "s", "type": "nominal", "scale": {"domain": ["tx","ty","tz","rx","ry","rz"], "range": [[1,0],[1,0],[2,2],[1,0],[1,0],[3,2]]}, "legend": null},
              "size": {"field": "s", "type": "nominal", "scale": {"domain": ["tx","ty","tz","rx","ry","rz"], "range": [1.5,1,1,1,1,1]}, "legend": null}
            }}
          ]},
         {"data": {"name": "keysB"},
          "encoding": {"y": {"field": "s", "type": "ordinal", "scale": {"domain": ["tx","ty","tz","rx","ry","rz"], "range": [5.7, 37.7], "padding": 0}, "axis": null}},
          "layer": [
           {"mark": {"type": "rule", "strokeWidth": 1.3},
            "encoding": {"x": {"datum": 117.5, "type": "quantitative", "axis": {"title": "iterations", "titlePadding": 0, "labelPadding": 1, "values": [0,20,40,60,80,100,120,140]}}, "x2": {"datum": 135.3},
              "color": {"field": "s", "type": "nominal", "scale": {"domain": ["tx","ty","tz","rx","ry","rz"], "range": ["#d42a2a","#33bb33","#b4a8d8","#c8a8f0","#44d0d0","#505050"]}, "legend": null},
              "strokeDash": {"field": "s", "type": "nominal", "scale": {"domain": ["tx","ty","tz","rx","ry","rz"], "range": [[1,0],[1,0],[2,2],[1,0],[1,0],[3,2]]}, "legend": null}}},
           {"mark": {"type": "text", "align": "right", "baseline": "middle", "dx": -4, "fontSize": 6, "color": "#333"},
            "encoding": {"x": {"datum": 117.5, "type": "quantitative", "axis": {"title": "iterations", "titlePadding": 0, "labelPadding": 1, "values": [0,20,40,60,80,100,120,140]}}, "text": {"field": "s"}}}
          ]}
       ]}
    ]}
  ]}
]
}
